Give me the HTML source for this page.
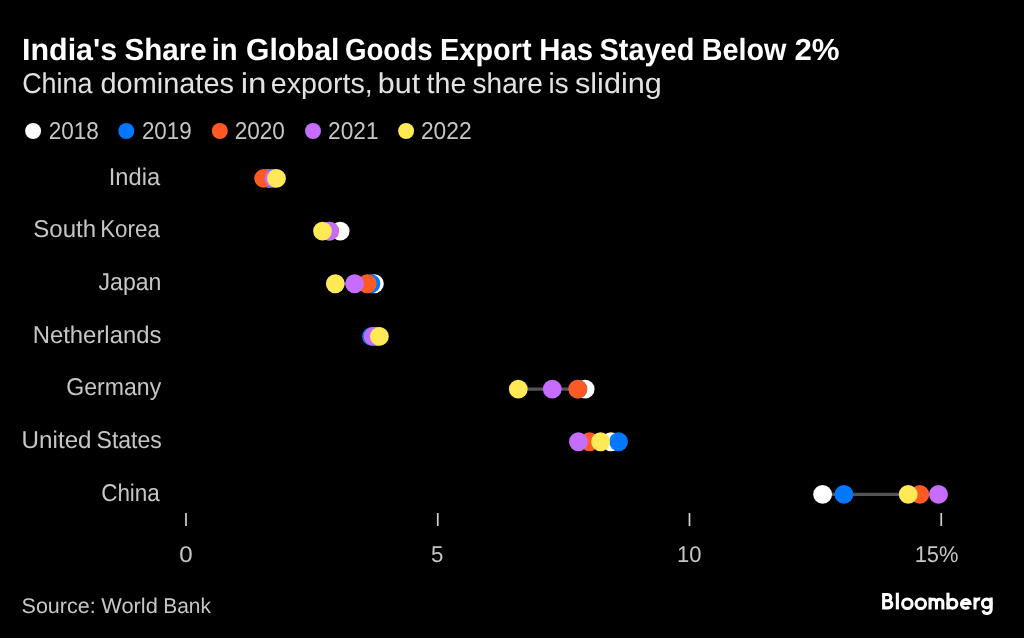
<!DOCTYPE html>
<html><head><meta charset="utf-8"><style>html,body{margin:0;padding:0;background:#000;width:1024px;height:638px;overflow:hidden}svg{will-change:transform}</style></head><body>
<svg width="1024" height="638" viewBox="0 0 1024 638" style="display:block">
<rect width="1024" height="638" fill="#000"/>
<text text-rendering="geometricPrecision" transform="translate(22.03,59.95) scale(0.9943,1)" font-family='"Liberation Sans", sans-serif' font-weight="bold" font-size="30.61" fill="#ffffff">India's</text>
<text text-rendering="geometricPrecision" transform="translate(124.38,59.95) scale(0.9679,1)" font-family='"Liberation Sans", sans-serif' font-weight="bold" font-size="30.61" fill="#ffffff">Share</text>
<text text-rendering="geometricPrecision" transform="translate(211.72,59.95) scale(0.9573,1)" font-family='"Liberation Sans", sans-serif' font-weight="bold" font-size="30.61" fill="#ffffff">in</text>
<text text-rendering="geometricPrecision" transform="translate(246.05,59.95) scale(0.9807,1)" font-family='"Liberation Sans", sans-serif' font-weight="bold" font-size="30.61" fill="#ffffff">Global</text>
<text text-rendering="geometricPrecision" transform="translate(344.89,59.95) scale(0.9047,1)" font-family='"Liberation Sans", sans-serif' font-weight="bold" font-size="30.61" fill="#ffffff">Goods</text>
<text text-rendering="geometricPrecision" transform="translate(440.08,59.95) scale(0.9436,1)" font-family='"Liberation Sans", sans-serif' font-weight="bold" font-size="30.61" fill="#ffffff">Export</text>
<text text-rendering="geometricPrecision" transform="translate(539.30,59.95) scale(0.9590,1)" font-family='"Liberation Sans", sans-serif' font-weight="bold" font-size="30.61" fill="#ffffff">Has</text>
<text text-rendering="geometricPrecision" transform="translate(599.56,59.95) scale(0.9439,1)" font-family='"Liberation Sans", sans-serif' font-weight="bold" font-size="30.61" fill="#ffffff">Stayed</text>
<text text-rendering="geometricPrecision" transform="translate(701.84,59.95) scale(0.9385,1)" font-family='"Liberation Sans", sans-serif' font-weight="bold" font-size="30.61" fill="#ffffff">Below</text>
<text text-rendering="geometricPrecision" transform="translate(794.43,59.95) scale(1.0202,1)" font-family='"Liberation Sans", sans-serif' font-weight="bold" font-size="30.61" fill="#ffffff">2%</text>
<text text-rendering="geometricPrecision" transform="translate(22.14,92.90) scale(0.9419,1)" font-family='"Liberation Sans", sans-serif' font-weight="normal" font-size="28.60" fill="#e2e2e2">China</text>
<text text-rendering="geometricPrecision" transform="translate(100.54,92.90) scale(1.0112,1)" font-family='"Liberation Sans", sans-serif' font-weight="normal" font-size="28.60" fill="#e2e2e2">dominates</text>
<text text-rendering="geometricPrecision" transform="translate(240.69,92.90) scale(1.1574,1)" font-family='"Liberation Sans", sans-serif' font-weight="normal" font-size="28.60" fill="#e2e2e2">in</text>
<text text-rendering="geometricPrecision" transform="translate(270.77,92.90) scale(1.0023,1)" font-family='"Liberation Sans", sans-serif' font-weight="normal" font-size="28.60" fill="#e2e2e2">exports,</text>
<text text-rendering="geometricPrecision" transform="translate(377.87,92.90) scale(1.0654,1)" font-family='"Liberation Sans", sans-serif' font-weight="normal" font-size="28.60" fill="#e2e2e2">but</text>
<text text-rendering="geometricPrecision" transform="translate(426.62,92.90) scale(0.9996,1)" font-family='"Liberation Sans", sans-serif' font-weight="normal" font-size="28.60" fill="#e2e2e2">the</text>
<text text-rendering="geometricPrecision" transform="translate(472.59,92.90) scale(0.9808,1)" font-family='"Liberation Sans", sans-serif' font-weight="normal" font-size="28.60" fill="#e2e2e2">share</text>
<text text-rendering="geometricPrecision" transform="translate(548.56,92.90) scale(0.9696,1)" font-family='"Liberation Sans", sans-serif' font-weight="normal" font-size="28.60" fill="#e2e2e2">is</text>
<text text-rendering="geometricPrecision" transform="translate(574.99,92.90) scale(1.0715,1)" font-family='"Liberation Sans", sans-serif' font-weight="normal" font-size="28.60" fill="#e2e2e2">sliding</text>
<text text-rendering="geometricPrecision" transform="translate(48.70,138.90) scale(0.9325,1)" font-family='"Liberation Sans", sans-serif' font-weight="normal" font-size="24.21" fill="#c6c6c6">2018</text>
<text text-rendering="geometricPrecision" transform="translate(141.90,138.90) scale(0.9260,1)" font-family='"Liberation Sans", sans-serif' font-weight="normal" font-size="24.21" fill="#c6c6c6">2019</text>
<text text-rendering="geometricPrecision" transform="translate(234.70,138.90) scale(0.9323,1)" font-family='"Liberation Sans", sans-serif' font-weight="normal" font-size="24.21" fill="#c6c6c6">2020</text>
<text text-rendering="geometricPrecision" transform="translate(328.09,138.90) scale(0.9374,1)" font-family='"Liberation Sans", sans-serif' font-weight="normal" font-size="24.21" fill="#c6c6c6">2021</text>
<text text-rendering="geometricPrecision" transform="translate(420.88,138.90) scale(0.9418,1)" font-family='"Liberation Sans", sans-serif' font-weight="normal" font-size="24.21" fill="#c6c6c6">2022</text>
<text text-rendering="geometricPrecision" transform="translate(108.75,184.80) scale(0.9770,1)" font-family='"Liberation Sans", sans-serif' font-weight="normal" font-size="24.27" fill="#c6c6c6">India</text>
<text text-rendering="geometricPrecision" transform="translate(33.31,237.47) scale(0.9911,1)" font-family='"Liberation Sans", sans-serif' font-weight="normal" font-size="24.27" fill="#c6c6c6">South</text>
<text text-rendering="geometricPrecision" transform="translate(100.16,237.47) scale(0.9221,1)" font-family='"Liberation Sans", sans-serif' font-weight="normal" font-size="24.27" fill="#c6c6c6">Korea</text>
<text text-rendering="geometricPrecision" transform="translate(98.58,290.14) scale(0.9509,1)" font-family='"Liberation Sans", sans-serif' font-weight="normal" font-size="24.27" fill="#c6c6c6">Japan</text>
<text text-rendering="geometricPrecision" transform="translate(32.63,342.81) scale(0.9846,1)" font-family='"Liberation Sans", sans-serif' font-weight="normal" font-size="24.27" fill="#c6c6c6">Netherlands</text>
<text text-rendering="geometricPrecision" transform="translate(66.34,395.48) scale(0.9507,1)" font-family='"Liberation Sans", sans-serif' font-weight="normal" font-size="24.27" fill="#c6c6c6">Germany</text>
<text text-rendering="geometricPrecision" transform="translate(21.61,448.15) scale(0.9970,1)" font-family='"Liberation Sans", sans-serif' font-weight="normal" font-size="24.27" fill="#c6c6c6">United</text>
<text text-rendering="geometricPrecision" transform="translate(96.57,448.15) scale(0.9479,1)" font-family='"Liberation Sans", sans-serif' font-weight="normal" font-size="24.27" fill="#c6c6c6">States</text>
<text text-rendering="geometricPrecision" transform="translate(101.16,500.82) scale(0.9257,1)" font-family='"Liberation Sans", sans-serif' font-weight="normal" font-size="24.27" fill="#c6c6c6">China</text>
<text text-rendering="geometricPrecision" transform="translate(179.14,561.90) scale(1.0598,1)" font-family='"Liberation Sans", sans-serif' font-weight="normal" font-size="22.74" fill="#c6c6c6">0</text>
<text text-rendering="geometricPrecision" transform="translate(430.96,561.90) scale(0.9815,1)" font-family='"Liberation Sans", sans-serif' font-weight="normal" font-size="22.74" fill="#c6c6c6">5</text>
<text text-rendering="geometricPrecision" transform="translate(677.08,561.90) scale(0.9670,1)" font-family='"Liberation Sans", sans-serif' font-weight="normal" font-size="22.74" fill="#c6c6c6">10</text>
<text text-rendering="geometricPrecision" transform="translate(914.69,561.90) scale(0.9629,1)" font-family='"Liberation Sans", sans-serif' font-weight="normal" font-size="22.74" fill="#c6c6c6">15%</text>
<text text-rendering="geometricPrecision" transform="translate(21.56,613.10) scale(1.0100,1)" font-family='"Liberation Sans", sans-serif' font-weight="normal" font-size="21.29" fill="#c6c6c6">Source:</text>
<text text-rendering="geometricPrecision" transform="translate(101.24,613.10) scale(1.0249,1)" font-family='"Liberation Sans", sans-serif' font-weight="normal" font-size="21.29" fill="#c6c6c6">World</text>
<text text-rendering="geometricPrecision" transform="translate(163.24,613.10) scale(0.9836,1)" font-family='"Liberation Sans", sans-serif' font-weight="normal" font-size="21.29" fill="#c6c6c6">Bank</text>
<circle cx="33.1" cy="131" r="8" fill="#ffffff"/>
<circle cx="126.3" cy="131" r="8" fill="#0077ff"/>
<circle cx="219.8" cy="131" r="8" fill="#ff5a24"/>
<circle cx="313.0" cy="131" r="8" fill="#c66dff"/>
<circle cx="406.1" cy="131" r="8" fill="#ffe955"/>
<line x1="263.7" y1="178.40" x2="276.5" y2="178.40" stroke="#555555" stroke-width="3.2"/>
<circle cx="269.0" cy="178.40" r="9.4" fill="#ffffff"/>
<circle cx="270.0" cy="178.40" r="9.4" fill="#0077ff"/>
<circle cx="263.7" cy="178.40" r="9.4" fill="#ff5a24"/>
<circle cx="274.0" cy="178.40" r="9.4" fill="#c66dff"/>
<circle cx="276.5" cy="178.40" r="9.4" fill="#ffe955"/>
<line x1="322.5" y1="231.07" x2="340.2" y2="231.07" stroke="#555555" stroke-width="3.2"/>
<circle cx="340.2" cy="231.07" r="9.4" fill="#ffffff"/>
<circle cx="329.0" cy="231.07" r="9.4" fill="#0077ff"/>
<circle cx="329.7" cy="231.07" r="9.4" fill="#ff5a24"/>
<circle cx="329.2" cy="231.07" r="9.4" fill="#c66dff"/>
<circle cx="322.5" cy="231.07" r="9.4" fill="#ffe955"/>
<line x1="335.3" y1="283.74" x2="374.4" y2="283.74" stroke="#555555" stroke-width="3.2"/>
<circle cx="374.4" cy="283.74" r="9.4" fill="#ffffff"/>
<circle cx="371.0" cy="283.74" r="9.4" fill="#0077ff"/>
<circle cx="367.2" cy="283.74" r="9.4" fill="#ff5a24"/>
<circle cx="354.6" cy="283.74" r="9.4" fill="#c66dff"/>
<circle cx="335.3" cy="283.74" r="9.4" fill="#ffe955"/>
<line x1="371.5" y1="336.41" x2="379.4" y2="336.41" stroke="#555555" stroke-width="3.2"/>
<circle cx="377.0" cy="336.41" r="9.4" fill="#ffffff"/>
<circle cx="371.5" cy="336.41" r="9.4" fill="#0077ff"/>
<circle cx="378.0" cy="336.41" r="9.4" fill="#ff5a24"/>
<circle cx="373.2" cy="336.41" r="9.4" fill="#c66dff"/>
<circle cx="379.4" cy="336.41" r="9.4" fill="#ffe955"/>
<line x1="518.3" y1="389.08" x2="585.2" y2="389.08" stroke="#555555" stroke-width="3.2"/>
<circle cx="585.2" cy="389.08" r="9.4" fill="#ffffff"/>
<circle cx="577.9" cy="389.08" r="9.4" fill="#0077ff"/>
<circle cx="577.8" cy="389.08" r="9.4" fill="#ff5a24"/>
<circle cx="552.25" cy="389.08" r="9.4" fill="#c66dff"/>
<circle cx="518.3" cy="389.08" r="9.4" fill="#ffe955"/>
<line x1="578.4" y1="441.75" x2="618.6" y2="441.75" stroke="#555555" stroke-width="3.2"/>
<circle cx="611.0" cy="441.75" r="9.4" fill="#ffffff"/>
<circle cx="618.6" cy="441.75" r="9.4" fill="#0077ff"/>
<circle cx="589.5" cy="441.75" r="9.4" fill="#ff5a24"/>
<circle cx="578.4" cy="441.75" r="9.4" fill="#c66dff"/>
<circle cx="600.6" cy="441.75" r="9.4" fill="#ffe955"/>
<line x1="822.6" y1="494.42" x2="938.5" y2="494.42" stroke="#555555" stroke-width="3.2"/>
<circle cx="822.6" cy="494.42" r="9.4" fill="#ffffff"/>
<circle cx="843.9" cy="494.42" r="9.4" fill="#0077ff"/>
<circle cx="919.8" cy="494.42" r="9.4" fill="#ff5a24"/>
<circle cx="938.5" cy="494.42" r="9.4" fill="#c66dff"/>
<circle cx="908.2" cy="494.42" r="9.4" fill="#ffe955"/>
<rect x="185.15" y="513" width="1.7" height="13" fill="#d0d0d0"/>
<rect x="436.90" y="513" width="1.7" height="13" fill="#d0d0d0"/>
<rect x="688.65" y="513" width="1.7" height="13" fill="#d0d0d0"/>
<rect x="940.40" y="513" width="1.7" height="13" fill="#d0d0d0"/>
<g fill="none" stroke="#fff" stroke-width="3.1"><path d="M883.65,593 V609.4 M883.65,594.55 H887.7 A3.1,3.1 0 0 1 887.7,600.75 H883.65 M887.7,600.75 H888.3 A3.52,3.52 0 0 1 888.3,607.85 H883.65"/><path d="M897.35,592.7 V609.4"/><circle cx="907.35" cy="603.7" r="4.75"/><circle cx="920.8" cy="603.7" r="4.75"/><path d="M930.05,609.4 V597.6 M930.05,602.45 A3.2,3.2 0 0 1 936.45,602.45 V609.4 M936.45,602.45 A3.2,3.2 0 0 1 942.85,602.45 V609.4"/><path d="M947.95,592.7 V609.4"/><circle cx="952.45" cy="603.7" r="4.45"/><path d="M961.45,603.5 H970.05 A4.3,4.3 0 1 0 968.9,606.9"/><path d="M975.0,609.4 V597.6 M975.0,603.5 A4.6,4.6 0 0 1 980.2,598.9"/><circle cx="986.7" cy="603.4" r="4.3"/><path d="M991.15,597.6 V609.3 A4.2,4.2 0 0 1 982.9,610.4"/></g>
</svg>
</body></html>
